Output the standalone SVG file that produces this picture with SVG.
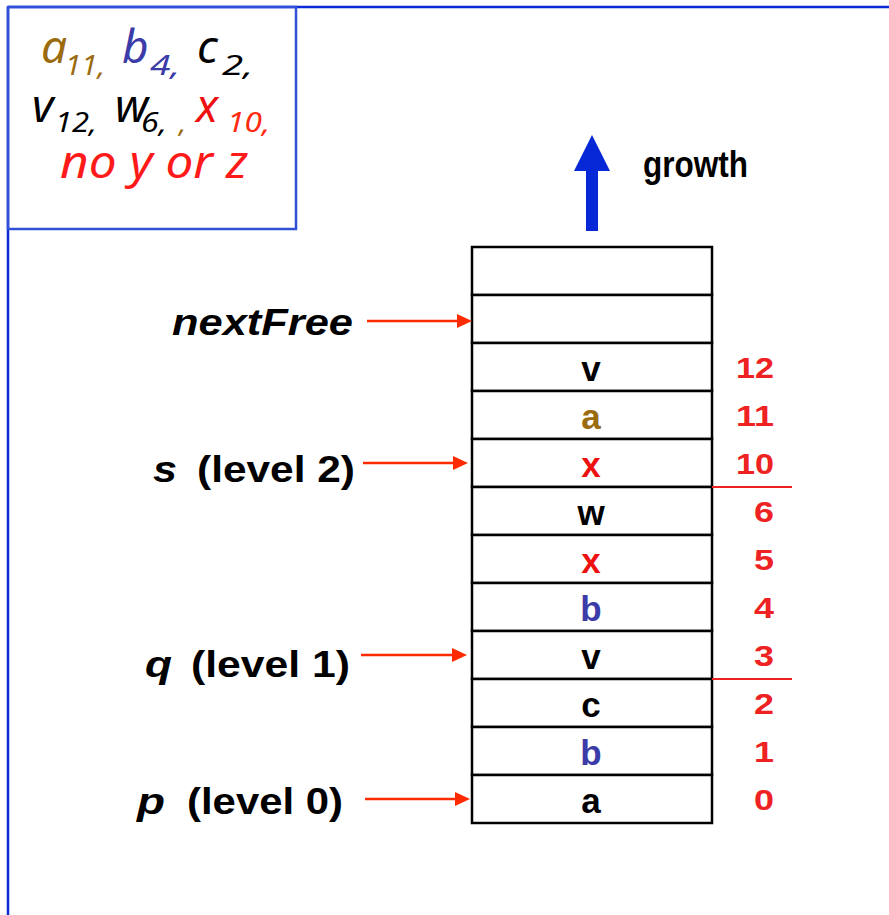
<svg xmlns="http://www.w3.org/2000/svg" width="889" height="915" viewBox="0 0 889 915">
<style>
.frame{fill:none;stroke:#0b2bd8;stroke-width:2.5}
.box{fill:none;stroke:#3050d8;stroke-width:2.5}
.cell{fill:#fff;stroke:#000;stroke-width:2.5}
.ct{font-family:"Liberation Sans",Arial,sans-serif;font-weight:bold;font-size:35px;text-anchor:middle}
.num{font-family:"Liberation Sans",Arial,sans-serif;font-weight:bold;font-size:29px;fill:#ee2222}
.lbl{font-family:"Liberation Sans",Arial,sans-serif;font-weight:bold;font-size:36px;fill:#000}
.it{font-style:italic}
.hand{font-family:"Noto Sans","DejaVu Sans",sans-serif;font-style:italic;font-size:46px}
.sub{font-family:"Noto Sans","DejaVu Sans",sans-serif;font-style:italic;font-size:28px}
.ptr{stroke:#ff2a00;stroke-width:2.5;fill:none}
.sep{stroke:#ee2222;stroke-width:2}
.brown{fill:#9b6b10}
.blue{fill:#3c3ca8}
.red{fill:#ee1111}
.blk{fill:#000}
</style>
<defs>
<marker id="ah" markerUnits="userSpaceOnUse" markerWidth="16" markerHeight="16" viewBox="0 -8 16 16" refX="0" refY="0" orient="auto">
<path d="M0,-7 L15,0 L0,7 z" fill="#ff2a00"/>
</marker>
</defs>
<rect width="889" height="915" fill="#fff"/>
<g id="frame">
<line class="frame" x1="8" y1="915" x2="8" y2="7"/>
<line class="frame" x1="8" y1="7" x2="889" y2="7"/>
</g>
<g id="legend">
<rect class="box" x="8" y="7" width="288" height="222"/>
<text class="hand brown" x="41" y="63">a</text>
<text class="sub brown" x="65" y="75" textLength="40" lengthAdjust="spacingAndGlyphs">11,</text>
<text class="hand blue" x="122" y="63">b</text>
<text class="sub blue" x="150" y="75" textLength="30" lengthAdjust="spacingAndGlyphs">4,</text>
<text class="hand blk" x="197" y="63">c</text>
<text class="sub blk" x="222" y="75" textLength="31" lengthAdjust="spacingAndGlyphs">2,</text>
<text class="hand blk" x="32" y="122">v</text>
<text class="sub blk" x="55" y="132" textLength="42" lengthAdjust="spacingAndGlyphs">12,</text>
<text class="hand blk" x="115" y="122">w</text>
<text class="sub blk" x="141" y="132" textLength="26" lengthAdjust="spacingAndGlyphs">6,</text>
<text class="sub brown" x="179" y="132" font-size="22">,</text>
<text class="hand red" x="196" y="122">x</text>
<text class="sub" x="227" y="132" fill="#ff2a10" textLength="43" lengthAdjust="spacingAndGlyphs">10,</text>
<text class="hand" x="60" y="178" fill="#ff1a1a" font-size="43" textLength="188" lengthAdjust="spacingAndGlyphs">no y or z</text>
</g>
<g id="growth">
<polygon points="586,231 598,231 598,171 610,171 592,135 574,171 586,171" fill="#0628d6"/>
<text class="lbl" x="643" y="177" font-size="29" textLength="105" lengthAdjust="spacingAndGlyphs">growth</text>
</g>
<g id="stack">
<rect class="cell" x="472" y="247" width="240" height="48"/>
<rect class="cell" x="472" y="295" width="240" height="48"/>
<rect class="cell" x="472" y="343" width="240" height="48"/>
<rect class="cell" x="472" y="391" width="240" height="48"/>
<rect class="cell" x="472" y="439" width="240" height="48"/>
<rect class="cell" x="472" y="487" width="240" height="48"/>
<rect class="cell" x="472" y="535" width="240" height="48"/>
<rect class="cell" x="472" y="583" width="240" height="48"/>
<rect class="cell" x="472" y="631" width="240" height="48"/>
<rect class="cell" x="472" y="679" width="240" height="48"/>
<rect class="cell" x="472" y="727" width="240" height="48"/>
<rect class="cell" x="472" y="775" width="240" height="48"/>
<text class="ct blk" x="591" y="381">v</text>
<text class="ct brown" x="591" y="429">a</text>
<text class="ct red" x="591" y="477">x</text>
<text class="ct blk" x="591" y="525">w</text>
<text class="ct red" x="591" y="573">x</text>
<text class="ct blue" x="591" y="621">b</text>
<text class="ct blk" x="591" y="669">v</text>
<text class="ct blk" x="591" y="717">c</text>
<text class="ct blue" x="591" y="765">b</text>
<text class="ct blk" x="591" y="813">a</text>
</g>
<g id="indices">
<text class="num" x="736" y="378" textLength="38" lengthAdjust="spacingAndGlyphs">12</text>
<text class="num" x="736" y="426" textLength="38" lengthAdjust="spacingAndGlyphs">11</text>
<text class="num" x="736" y="474" textLength="38" lengthAdjust="spacingAndGlyphs">10</text>
<text class="num" x="754" y="522" textLength="20" lengthAdjust="spacingAndGlyphs">6</text>
<text class="num" x="754" y="570" textLength="20" lengthAdjust="spacingAndGlyphs">5</text>
<text class="num" x="754" y="618" textLength="20" lengthAdjust="spacingAndGlyphs">4</text>
<text class="num" x="754" y="666" textLength="20" lengthAdjust="spacingAndGlyphs">3</text>
<text class="num" x="754" y="714" textLength="20" lengthAdjust="spacingAndGlyphs">2</text>
<text class="num" x="754" y="762" textLength="20" lengthAdjust="spacingAndGlyphs">1</text>
<text class="num" x="754" y="810" textLength="20" lengthAdjust="spacingAndGlyphs">0</text>
<line class="sep" x1="712" y1="487" x2="792" y2="487"/>
<line class="sep" x1="712" y1="679" x2="792" y2="679"/>
</g>
<g id="labels">
<text class="lbl it" x="172" y="335" textLength="181" lengthAdjust="spacingAndGlyphs">nextFree</text>
<text class="lbl it" x="153" y="482" textLength="24" lengthAdjust="spacingAndGlyphs">s</text>
<text class="lbl" x="197" y="482" textLength="158" lengthAdjust="spacingAndGlyphs">(level 2)</text>
<text class="lbl it" x="145" y="677" textLength="27" lengthAdjust="spacingAndGlyphs">q</text>
<text class="lbl" x="191" y="677" textLength="159" lengthAdjust="spacingAndGlyphs">(level 1)</text>
<text class="lbl it" x="137" y="814" textLength="28" lengthAdjust="spacingAndGlyphs">p</text>
<text class="lbl" x="187" y="814" textLength="156" lengthAdjust="spacingAndGlyphs">(level 0)</text>
</g>
<g id="connectors">
<line class="ptr" x1="367" y1="321" x2="457" y2="321" marker-end="url(#ah)"/>
<line class="ptr" x1="363" y1="463" x2="453" y2="463" marker-end="url(#ah)"/>
<line class="ptr" x1="361" y1="655" x2="452" y2="655" marker-end="url(#ah)"/>
<line class="ptr" x1="365" y1="799" x2="455" y2="799" marker-end="url(#ah)"/>
</g>
</svg>
